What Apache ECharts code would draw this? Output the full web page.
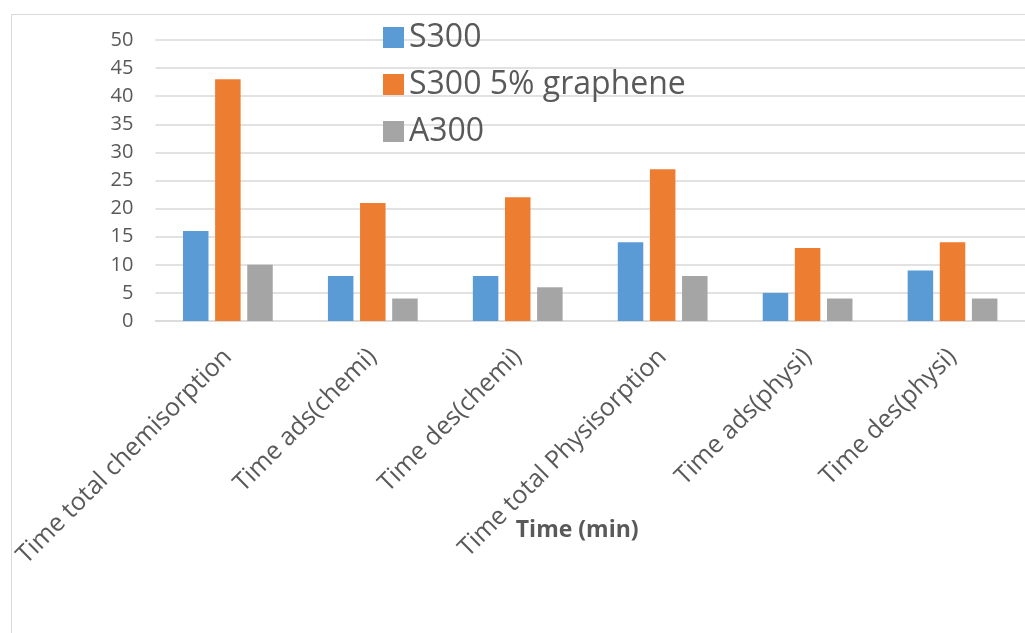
<!DOCTYPE html>
<html>
<head>
<meta charset="utf-8">
<script src="https://cdn.jsdelivr.net/npm/echarts@6/dist/echarts.min.js"></script>
<style>
  html, body { margin: 0; padding: 0; background: #ffffff; overflow: hidden; }
  #frame { position: absolute; left: 11px; top: 14px; width: 1100px; height: 700px;
           border: 1.5px solid #d9d9d9; box-sizing: border-box; }
  #chart { position: absolute; left: 0; top: 0; width: 1025px; height: 633px; }
</style>
</head>
<body>
<div id="frame"></div>
<div id="chart"></div>
<script>
// Measurement steps, in minutes
const categories = [
  'Time total chemisorption',
  'Time ads(chemi)',
  'Time des(chemi)',
  'Time total Physisorption',
  'Time ads(physi)',
  'Time des(physi)'
];
const seriesNames = ['S300', 'S300 5% graphene', 'A300'];
const s300 = [16, 8, 8, 14, 5, 9];
const s300Graphene = [43, 21, 22, 27, 13, 14];
const a300 = [10, 4, 6, 8, 4, 4];
const yTicks = { min: 0, max: 50, interval: 5 };

const colors = ['#5B9BD5', '#ED7D31', '#A5A5A5'];
const font = '"Open Sans", "Noto Sans", sans-serif';
const textColor = '#595959';

const chart = echarts.init(document.getElementById('chart'));
chart.setOption({
  animation: false,
  backgroundColor: 'transparent',
  color: colors,
  grid: { left: 155.4, right: -1.6, top: 40, bottom: 312, containLabel: false },
  legend: {
    orient: 'vertical',
    left: 378,
    top: 16.5,
    itemWidth: 21,
    itemHeight: 21,
    itemGap: 15,
    icon: 'rect',
    data: seriesNames,
    textStyle: { fontFamily: font, fontSize: 32, color: textColor, lineHeight: 30 }
  },
  xAxis: {
    type: 'category',
    data: categories,
    name: 'Time (min)',
    nameLocation: 'middle',
    nameGap: 198,
    nameMoveOverlap: false,
    nameTextStyle: { fontFamily: font, fontSize: 23, fontWeight: 'bold', color: textColor, padding: [0, 26, 0, 0] },
    axisLine: { lineStyle: { color: '#d9d9d9', width: 1.5 } },
    axisTick: { show: false },
    axisLabel: { rotate: 45, interval: 0, margin: 32, fontFamily: font, fontSize: 25, color: textColor }
  },
  yAxis: {
    type: 'value',
    min: yTicks.min,
    max: yTicks.max,
    interval: yTicks.interval,
    axisLine: { show: false },
    axisTick: { show: false },
    axisLabel: { margin: 22, fontFamily: font, fontSize: 20, color: textColor },
    splitLine: { lineStyle: { color: '#d9d9d9', width: 1.5 } }
  },
  series: [
    { name: seriesNames[0], type: 'bar', data: s300, barWidth: 25.5, barGap: '26%' },
    { name: seriesNames[1], type: 'bar', data: s300Graphene, barWidth: 25.5, barGap: '26%' },
    { name: seriesNames[2], type: 'bar', data: a300, barWidth: 25.5, barGap: '26%' }
  ]
});
</script>
</body>
</html>
